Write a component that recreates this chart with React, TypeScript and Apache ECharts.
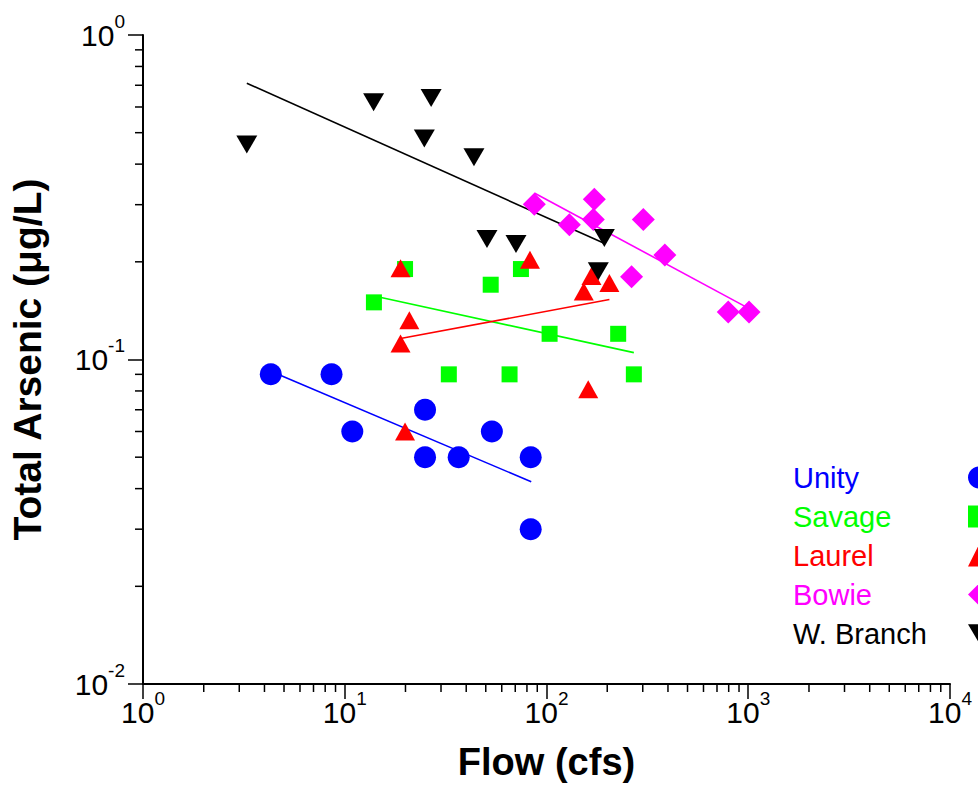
import React, { useEffect, useRef } from "react";
import * as echarts from "echarts";

const FONT = 'Arial, "Liberation Sans", Helvetica, sans-serif';

// ---- data ----
const unityFlow = [4.3, 8.6, 10.9, 25, 25, 36.7, 53.6, 83.5, 83.5];
const unityAs = [0.09, 0.09, 0.06, 0.07, 0.05, 0.05, 0.06, 0.05, 0.03];
const unityFitFlow = [4.3, 84];
const unityFitAs = [0.092, 0.042];

const savageFlow = [13.95, 19.9, 52.9, 74.7, 103.6, 226.6, 32.8, 65.6, 271];
const savageAs = [0.15, 0.19, 0.17, 0.19, 0.12, 0.12, 0.09, 0.09, 0.09];
const savageFitFlow = [14, 271];
const savageFitAs = [0.157, 0.105];

const laurelFlow = [18.9, 20.9, 18.9, 19.9, 82.8, 153, 167, 205, 161];
const laurelAs = [0.191, 0.132, 0.112, 0.06, 0.203, 0.162, 0.181, 0.172, 0.081];
const laurelFitFlow = [18.9, 205];
const laurelFitAs = [0.116, 0.153];

const bowieFlow = [87, 129.8, 170.6, 172.6, 302, 264, 386, 796, 1009];
const bowieAs = [0.301, 0.26, 0.27, 0.312, 0.27, 0.18, 0.21, 0.14, 0.14];
const bowieFitFlow = [87, 1000];
const bowieFitAs = [0.326, 0.144];

const wbranchFlow = [3.27, 13.9, 26.8, 24.8, 43.7, 50.7, 70.6, 193.5, 180.6];
const wbranchAs = [0.46, 0.62, 0.64, 0.48, 0.42, 0.235, 0.227, 0.237, 0.187];
const wbranchFitFlow = [3.27, 193];
const wbranchFitAs = [0.71, 0.228];

const seriesNames = ["Unity", "Savage", "Laurel", "Bowie", "W. Branch"];

// axis range and minor tick multiples
const X_MIN = 1;
const X_MAX = 10000;
const Y_MIN = 0.01;
const Y_MAX = 1;
const minorMultiples = [2, 3, 4, 5, 6, 7, 8, 9];
const xDecades = [1, 10, 100, 1000];
const yDecades = [0.01, 0.1];

const DOWN_TRI = "path://M0,0L20,0L10,17Z";

const defs = [
  { name: "Unity", key: "u", color: "#0000ff", symbol: "circle", size: 22 as any, flow: unityFlow, as: unityAs, fFlow: unityFitFlow, fAs: unityFitAs },
  { name: "Savage", key: "s", color: "#00ff00", symbol: "rect", size: 16 as any, flow: savageFlow, as: savageAs, fFlow: savageFitFlow, fAs: savageFitAs },
  { name: "Laurel", key: "l", color: "#ff0000", symbol: "triangle", size: [20, 18] as any, flow: laurelFlow, as: laurelAs, fFlow: laurelFitFlow, fAs: laurelFitAs },
  { name: "Bowie", key: "b", color: "#ff00ff", symbol: "diamond", size: 23 as any, flow: bowieFlow, as: bowieAs, fFlow: bowieFitFlow, fAs: bowieFitAs },
  { name: "W. Branch", key: "w", color: "#000000", symbol: DOWN_TRI, size: [21, 18] as any, flow: wbranchFlow, as: wbranchAs, fFlow: wbranchFitFlow, fAs: wbranchFitAs },
];

const pairs = (xs: number[], ys: number[]) => xs.map((x, i) => [x, ys[i]]);

const expLabel = (v: number) => {
  const e = Math.round(Math.log10(v));
  return `{m|10}{e|${e}}`;
};

const labelRich = {
  m: { fontSize: 30, lineHeight: 30, fontFamily: FONT, color: "#000" },
  e: { fontSize: 19, lineHeight: 19, padding: [0, 0, 28, 0], fontFamily: FONT, color: "#000" },
};

export default function App() {
  const ref = useRef<HTMLDivElement>(null);

  useEffect(() => {
    if (!ref.current) return;
    const chart = echarts.init(ref.current, undefined, { renderer: "svg" });

    const xMinor: number[] = [];
    xDecades.forEach((d) => minorMultiples.forEach((m) => xMinor.push(d * m)));
    const yMinor: number[] = [];
    yDecades.forEach((d) => minorMultiples.forEach((m) => yMinor.push(d * m)));

    const series: any[] = [];
    defs.forEach((d) => {
      series.push({
        name: d.name + " fit",
        type: "line",
        data: pairs(d.fFlow, d.fAs),
        symbol: "none",
        lineStyle: { color: d.color, width: 1.6 },
        z: 2,
      });
      series.push({
        name: d.name,
        type: "scatter",
        data: pairs(d.flow, d.as),
        symbol: d.symbol,
        symbolSize: d.size,
        itemStyle: { color: d.color, opacity: 1 },
        z: 2,
      });
    });

    series.push({
      name: "xminor",
      type: "custom",
      clip: false,
      silent: true,
      data: xMinor.map((v) => [v, Y_MIN]),
      renderItem: (_p: any, api: any) => {
        const pt = api.coord([api.value(0), Y_MIN]);
        return {
          type: "line",
          shape: { x1: pt[0], y1: pt[1], x2: pt[0], y2: pt[1] + 8 },
          style: { stroke: "#000", lineWidth: 1.5 },
        };
      },
      z: 3,
    });
    series.push({
      name: "yminor",
      type: "custom",
      clip: false,
      silent: true,
      data: yMinor.map((v) => [X_MIN, v]),
      renderItem: (_p: any, api: any) => {
        const pt = api.coord([X_MIN, api.value(1)]);
        return {
          type: "line",
          shape: { x1: pt[0] - 8, y1: pt[1], x2: pt[0], y2: pt[1] },
          style: { stroke: "#000", lineWidth: 1.5 },
        };
      },
      z: 3,
    });

    const legendRich: any = {};
    defs.forEach((d) => {
      legendRich[d.key] = {
        color: d.color,
        fontSize: 29,
        lineHeight: 30,
        width: 170,
        align: "left",
        fontFamily: FONT,
      };
    });
    const keyOf: Record<string, string> = {};
    defs.forEach((d) => (keyOf[d.name] = d.key));

    chart.setOption({
      animation: false,
      backgroundColor: "#ffffff",
      textStyle: { fontFamily: FONT },
      grid: { left: 143, top: 35, right: 28, bottom: 101, containLabel: false },
      legend: {
        orient: "vertical",
        align: "right",
        left: 793,
        top: 463,
        padding: 0,
        itemGap: 10,
        itemWidth: 22,
        itemHeight: 22,
        data: seriesNames,
        formatter: (name: string) => `{${keyOf[name]}|${name}}`,
        textStyle: { fontSize: 29, fontFamily: FONT, rich: legendRich },
        selectedMode: false,
      },
      xAxis: {
        type: "log",
        logBase: 10,
        min: X_MIN,
        max: X_MAX,
        name: "Flow (cfs)",
        nameLocation: "middle",
        nameGap: 59,
        nameTextStyle: { fontSize: 38, fontWeight: "bold", color: "#000", fontFamily: FONT },
        axisLine: { lineStyle: { color: "#000", width: 2 } },
        axisTick: { length: 15, lineStyle: { color: "#000", width: 1.5 } },
        axisLabel: { margin: 13, formatter: expLabel, rich: labelRich, color: "#000" },
        splitLine: { show: false },
        minorTick: { show: false },
      },
      yAxis: {
        type: "log",
        logBase: 10,
        min: Y_MIN,
        max: Y_MAX,
        name: "Total Arsenic (μg/L)",
        nameLocation: "middle",
        nameGap: 96,
        nameTextStyle: { fontSize: 39, fontWeight: "bold", color: "#000", fontFamily: FONT },
        axisLine: { lineStyle: { color: "#000", width: 2 } },
        axisTick: { length: 15, lineStyle: { color: "#000", width: 1.5 } },
        axisLabel: { margin: 18, formatter: expLabel, rich: labelRich, color: "#000" },
        splitLine: { show: false },
        minorTick: { show: false },
      },
      series,
    });

    return () => chart.dispose();
  }, []);

  return (
    <div
      ref={ref}
      style={{ position: "fixed", left: 0, top: 0, width: 978, height: 786, background: "#fff" }}
    />
  );
}
